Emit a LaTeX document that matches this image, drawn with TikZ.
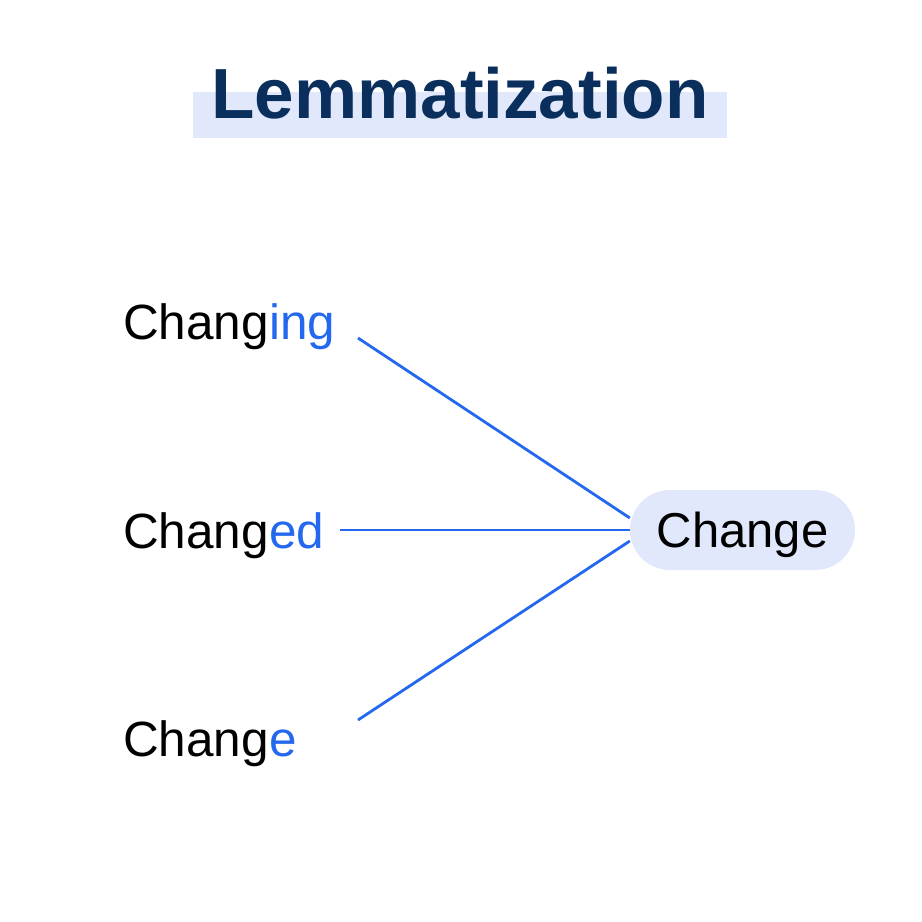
\documentclass[tikz,border=0pt]{standalone}
\usepackage{fontspec}
\setmainfont{Liberation Sans}
\usepackage{xcolor}
\definecolor{lemnavy}{HTML}{0B2F5C}
\definecolor{lemblue}{HTML}{2368EE}
\definecolor{lemlight}{HTML}{E1E8FC}
\tikzstyle{word} = [anchor=base west, inner sep=0,
    font=\fontsize{49.5}{49.5}\selectfont]
\tikzstyle{lemma} = [fill=lemlight, rounded corners=40pt, minimum width=225pt,
    minimum height=80pt, inner sep=0, text height=34pt, text depth=0pt,
    font=\fontsize{49}{49}\selectfont]
\tikzstyle{link} = [draw=lemblue, line width=2.8pt]

\begin{document}
\begin{tikzpicture}[x=1pt,y=-1pt]
\useasboundingbox (0,0) rectangle (922,922);
% title with highlight bar
\fill[lemlight] (193,92) rectangle (727,138);
\node[anchor=base, inner sep=0, text=lemnavy,
    font=\bfseries\fontsize{71}{71}\selectfont] (title) at (460,118) {Lemmatization};
% inflected forms
\node[word] (changing) at (123,339) {Chang\textcolor{lemblue}{ing}};
\node[word] (changed) at (123,548) {Chang\textcolor{lemblue}{ed}};
\node[word] (change) at (123,756) {Chang\textcolor{lemblue}{e}};
% lemma
\node[lemma] (lemma) at (742.5,530) {Change};
\coordinate (from1) at (358,338);
\coordinate (from2) at (340,530);
\coordinate (from3) at (358,720);
\draw[link] (from1) -- (lemma.west |- 0,518);
\draw[link] (from2) -- (lemma.west);
\draw[link] (from3) -- (lemma.west |- 0,541);
\end{tikzpicture}
\end{document}
